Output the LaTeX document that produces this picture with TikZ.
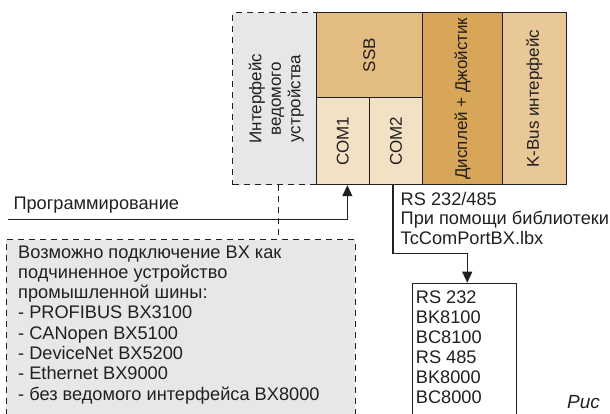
\documentclass[tikz,border=0pt]{standalone}
\usepackage{fontspec}
\setmainfont{Liberation Sans}
\usetikzlibrary{arrows.meta}
\definecolor{lgray}{HTML}{E6E7E8}
\definecolor{ssbc}{HTML}{E3BC82}
\definecolor{comc}{HTML}{F3E1C5}
\definecolor{dispc}{HTML}{D8A658}
\definecolor{kbusc}{HTML}{E8C896}
\definecolor{ink}{HTML}{231F20}
\begin{document}
\begin{tikzpicture}[x=1pt,y=-1pt,
  font=\fontsize{18.2}{20}\selectfont,
  blk/.style={draw=ink, line width=1.2pt, inner sep=0pt, anchor=north west},
  dbox/.style={draw=ink, dash pattern=on 6pt off 5pt, line width=1.2pt, fill=lgray, inner sep=0pt, anchor=north west},
  lbl/.style={rotate=90, text=ink, align=center, inner sep=0pt, font=\fontsize{17}{19.5}\selectfont},
  txt/.style={text=ink, align=left, inner sep=0pt},
  conn/.style={draw=ink, line width=1.2pt},
  dconn/.style={draw=ink, line width=1.2pt, dash pattern=on 6pt off 5pt},
  arr/.style={-{Triangle[width=10pt,length=11pt]}}]
\useasboundingbox (0,0) rectangle (610,413);
\clip (0,0) rectangle (610,413);
% slave interface (dashed)
\node[dbox, minimum width=83.5pt, minimum height=172pt] (iface) at (232,12) {};
\node[lbl] at ([xshift=2pt]iface.center) {Интерфейс\\ведомого\\устройства};
% main blocks
\node[blk, fill=ssbc, minimum width=106.5pt, minimum height=85pt] (ssb) at (315.5,12) {};
\node[lbl] at (ssb.center) {SSB};
\node[blk, fill=comc, minimum width=53.5pt, minimum height=87pt] (com1) at (315.5,97) {};
\node[lbl] at (com1.center) {COM1};
\node[blk, fill=comc, minimum width=53pt, minimum height=87pt] (com2) at (369,97) {};
\node[lbl] at (com2.center) {COM2};
\node[blk, fill=dispc, minimum width=80pt, minimum height=172pt] (disp) at (422,12) {};
\node[lbl] at (disp.center) {Дисплей + Джойстик};
\node[blk, fill=kbusc, minimum width=63.5pt, minimum height=172pt] (kbus) at (502,12) {};
\node[lbl] at (kbus.center) {K-Bus интерфейс};
% programming
\node[txt, anchor=base west] (proglbl) at (13.3,209.3) {Программирование};
\coordinate (progstart) at (8,219.7);
\draw[conn, arr] (progstart) -| ([xshift=4.5pt]com1.south);
% fieldbus note
\node[dbox, minimum width=349pt, minimum height=200pt] (note) at (5.5,239) {};
\node[txt, anchor=north west, font=\fontsize{18.2}{20.3}\selectfont] (notetext) at (18,245.3) {Возможно подключение BX как\\подчиненное устройство\\промышленной шины:\\- PROFIBUS BX3100\\- CANopen BX5100\\- DeviceNet BX5200\\- Ethernet BX9000\\- без ведомого интерфейса BX8000};
\draw[dconn] ([xshift=4.2pt]iface.south) -- ([xshift=4.2pt]iface.south |- note.north);
% RS connection
\node[txt, anchor=north west, font=\fontsize{18.2}{19.6}\selectfont] (rslbl) at (400.5,192) {RS 232/485\\При помощи библиотеки\\TcComPortBX.lbx};
\node[blk, fill=white, minimum width=104.5pt, minimum height=150pt] (rsbox) at (411.7,282.7) {};
\node[txt, anchor=north west] (rstext) at (415.7,291) {RS 232\\BK8100\\BC8100\\RS 485\\BK8000\\BC8000};
\coordinate (rsbend) at (393,253.3);
\draw[conn, arr] (com2.south -| rsbend) -- (rsbend) -| ([xshift=2.7pt]rsbox.north);
% caption fragment
\node[txt, anchor=base west, font=\fontsize{19}{21}\selectfont\itshape] (cap) at (567,408.5) {Рис};
\end{tikzpicture}
\end{document}
